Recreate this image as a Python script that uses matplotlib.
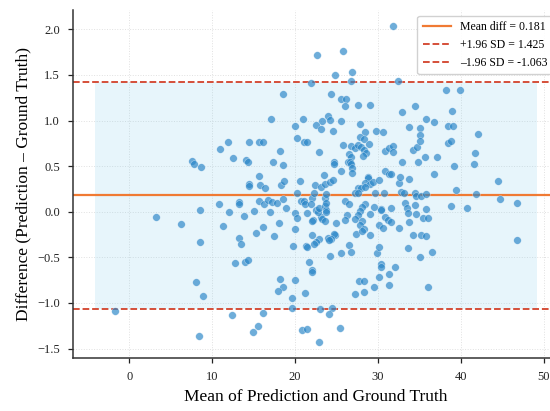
import numpy as np
import matplotlib
matplotlib.use("Agg")
import matplotlib.pyplot as plt

# ── Data ────────────────────────────────────────────────────────────────────
MEAN_DIFF = 0.181
UPPER_LOA = 1.425
LOWER_LOA = -1.063

mean_vals = [
    31.8, 22.7, 25.8, 24.8, 26.9, 26.8, 21.9, 32.4, 18.5, 24.4, 25.6, 26.2, 26.0, 27.6, 29.1,
    38.2, 39.9, 34.5, 32.9, 39.0, 17.1, 21.0, 20.0, 24.0, 23.3, 24.2, 25.6, 22.5, 23.2, 24.6,
    27.8, 28.5, 29.8, 30.6, 33.8, 35.1, 35.8, 36.8, 35.1, 38.5, 39.1, 42.1, 27.9, 28.3, 20.3,
    11.9, 14.5, 15.7, 16.1, 21.1, 21.5, 11.0, 18.2, 22.9, 25.8, 26.8, 27.3, 27.6, 28.0, 28.9,
    28.3, 28.6, 28.2, 26.5, 26.8, 30.9, 31.4, 31.8, 31.8, 34.3, 34.7, 34.8, 35.7, 37.2, 38.5,
    38.8, 39.2, 41.7, 41.6, 32.9, 36.8, 35.1,
    7.6, 7.8, 8.7, 12.5, 14.1, 14.3, 17.4, 18.5, 15.6, 14.4, 14.5, 15.8, 16.4, 18.3, 18.7,
    20.6, 20.3, 22.4, 23.2, 23.6, 24.2, 24.6, 23.5, 24.7, 24.7, 25.6, 26.4, 26.6, 26.8, 26.9,
    26.9, 28.8, 28.8, 28.5, 29.0, 29.4, 30.2, 27.6, 28.0, 28.4, 27.2, 27.6, 30.9, 31.4, 31.6,
    32.6, 32.7, 33.8, 32.8, 33.2, 34.5, 34.6, 35.2, 35.8, 29.7, 30.7, 39.4, 41.8, 44.5, 44.7,
    46.8, 46.8, 40.8, 38.8, 35.4, 36.1, 35.8, 33.3, 33.5, 34.5, 34.6, 33.7, 33.8, 32.5, 34.3,
    35.2, 35.8, 33.6, 36.5, 35.1, 31.6, 30.4, 30.4, 29.6, 30.9, 31.2, 31.6, 30.2, 30.6, 29.0,
    28.5, 28.1, 27.8, 27.6, 27.3, 28.1, 27.8, 28.3, 26.0, 26.5, 26.3, 26.0, 24.9, 27.4, 28.1,
    29.0, 26.5, 26.8, 25.5, 24.2, 29.9, 30.2, 30.4, 30.4, 32.1, 21.7, 22.1, 24.8, 24.7, 24.0,
    24.3, 24.1, 22.9, 22.6, 22.3, 21.3, 21.4, 19.8, 22.0, 20.0, 17.5, 16.1, 15.3, 13.3, 13.5,
    12.8, 14.0, 14.3, 11.3, 8.5, 6.3, 3.2, 8.5, 10.8, 12.0, 13.9, 13.2, 13.2, 15.1, 15.6,
    16.3, 16.7, 17.2, 17.8, 17.0, 18.1, 18.5, 18.9, 20.0, 20.2, 20.7, 21.1, 21.2, 21.4, 22.0,
    21.9, 22.3, 22.2, 22.0, 23.1, 23.3, 22.6, 22.8, 22.9, 23.6, 23.8, 23.7, 23.6, 23.8, 23.8,
    23.6,
    22.1, 8.1, 8.9, 18.2, 18.5, 17.9, 20.0, 21.2, 19.6, 19.7, -1.7, 12.4, 16.2, 23.0, 24.5,
    24.1, 15.5, 14.9, 8.4, 20.9, 21.4, 25.4, 22.9, 27.2, 27.7, 28.3, 28.3, 29.5, 30.1, 31.4,
    31.4, 36.0,
]

diff_vals = [
    2.04, 1.72, 1.76, 1.50, 1.53, 1.43, 1.41, 1.43, 1.29, 1.29, 1.24, 1.24, 1.16, 1.17, 1.17,
    1.34, 1.34, 1.16, 1.09, 1.11, 1.02, 1.02, 0.94, 1.05, 1.00, 1.01, 1.00, 0.95, 0.91, 0.89,
    0.96, 0.87, 0.89, 0.87, 0.93, 0.92, 1.02, 0.98, 0.84, 0.94, 0.94, 0.85, 0.82, 0.80, 0.81,
    0.77, 0.77, 0.76, 0.76, 0.76, 0.77, 0.69, 0.67, 0.66, 0.73, 0.72, 0.70, 0.73, 0.71, 0.74,
    0.68, 0.64, 0.61, 0.63, 0.60, 0.67, 0.70, 0.72, 0.66, 0.68, 0.71, 0.55, 0.60, 0.60, 0.75,
    0.78, 0.50, 0.64, 0.52, 0.55, 0.41, 0.78,
    0.56, 0.52, 0.49, 0.59, 0.57, 0.54, 0.54, 0.51, 0.39, 0.30, 0.28, 0.29, 0.26, 0.29, 0.34,
    0.34, 0.21, 0.29, 0.27, 0.30, 0.33, 0.35, 0.40, 0.55, 0.52, 0.45, 0.55, 0.54, 0.52, 0.48,
    0.43, 0.38, 0.37, 0.32, 0.30, 0.33, 0.35, 0.26, 0.26, 0.27, 0.20, 0.20, 0.45, 0.41, 0.41,
    0.31, 0.38, 0.36, 0.22, 0.20, 0.21, 0.17, 0.17, 0.19, 0.20, 0.21, 0.24, 0.19, 0.34, 0.14,
    0.10, -0.31, 0.04, 0.06, -0.07, -0.07, 0.03, 0.10, 0.04, 0.07, -0.02, -0.01, -0.11, -0.18, -0.26,
    -0.26, -0.27, -0.40, -0.44, -0.50, 0.04, 0.03, 0.02, 0.05, -0.06, -0.09, -0.11, -0.14, -0.18, -0.03,
    0.09, 0.05, 0.01, -0.04, -0.08, -0.10, -0.15, -0.19, 0.12, 0.08, -0.04, -0.09, -0.12, -0.24, -0.21,
    -0.26, -0.37, -0.44, -0.45, -0.48, -0.45, -0.39, -0.57, -0.61, -0.61, -0.55, -0.64, -0.25, -0.24, -0.29,
    -0.30, -0.31, -0.30, -0.33, -0.35, -0.38, -0.39, -0.38, -0.26, -0.19, -0.27, -0.17, -0.23, -0.29, -0.35,
    -0.56, -0.55, -0.53, -0.16, -0.33, -0.13, -0.06, 0.02, 0.08, 0.00, -0.05, 0.11, 0.08, 0.01, 0.12,
    0.08, 0.13, 0.11, 0.10, 0.00, -0.12, 0.14, 0.04, -0.01, -0.07, 0.12, 0.12, 0.09, -0.01, 0.15,
    0.08, 0.21, -0.09, -0.10, -0.06, -0.08, 0.02, 0.00, 0.04, 0.06, 0.02, 0.00, 0.15, 0.19, 0.10,
    -0.10,
    -0.66, -0.77, -0.92, -0.74, -0.83, -0.87, -0.75, -0.89, -0.95, -1.05, -1.09, -1.13, -1.11, -1.07, -1.06,
    -1.12, -1.25, -1.32, -1.36, -1.30, -1.29, -1.28, -1.43, -0.90, -0.76, -0.76, -0.88, -0.82, -0.72, -0.68,
    -0.80, -0.83,
]

# ── Style ───────────────────────────────────────────────────────────────────
plt.rcParams["font.family"] = ["Liberation Serif", "DejaVu Serif"]
plt.rcParams["axes.unicode_minus"] = True

fig = plt.figure(figsize=(5.5, 4.11), dpi=100)
ax = fig.add_axes([0.1327, 0.129, 0.884, 0.847])

ax.scatter(mean_vals, diff_vals, s=30, color="#2a86c8", alpha=0.68,
           edgecolors="white", linewidths=0.3, zorder=3)

# agreement band spans the data range (before final autoscale margins)
xl = ax.get_xlim()
ax.fill_between(xl, LOWER_LOA, UPPER_LOA, color="skyblue", alpha=0.2,
                linewidth=0, zorder=1)

ax.axhline(MEAN_DIFF, color="#F07A33", linewidth=1.6, zorder=2,
           label=f"Mean diff = {MEAN_DIFF:.3f}")
ax.axhline(UPPER_LOA, color="#D2412A", linestyle="--", linewidth=1.3, zorder=2,
           label=f"+1.96 SD = {UPPER_LOA:.3f}")
ax.axhline(LOWER_LOA, color="#D2412A", linestyle="--", linewidth=1.3, zorder=2,
           label=f"\u20131.96 SD = {LOWER_LOA:.3f}")

ax.set_xticks([0, 10, 20, 30, 40, 50])
ax.set_yticks([-1.5, -1.0, -0.5, 0.0, 0.5, 1.0, 1.5, 2.0])
ax.tick_params(labelsize=9, length=3.5, width=0.9, pad=6, colors="#222222")

ax.set_xlabel("Mean of Prediction and Ground Truth", fontsize=12.5, labelpad=4)
ax.set_ylabel("Difference (Prediction \u2013 Ground Truth)", fontsize=12.5, labelpad=4)

ax.grid(True, linestyle=":", linewidth=0.7, color="#cccccc", alpha=0.6, zorder=0)
ax.set_axisbelow(True)

for side in ["top", "right"]:
    ax.spines[side].set_visible(False)
for side in ["left", "bottom"]:
    ax.spines[side].set_color("#333333")
    ax.spines[side].set_linewidth(1.1)

leg = ax.legend(loc="upper right", bbox_to_anchor=(1.0, 1.0), fontsize=8.5,
                frameon=True, framealpha=0.9, edgecolor="#cccccc",
                handlelength=2.4, borderpad=0.45, labelspacing=0.5)

fig.savefig("out.png", dpi=100)
plt.close(fig)
